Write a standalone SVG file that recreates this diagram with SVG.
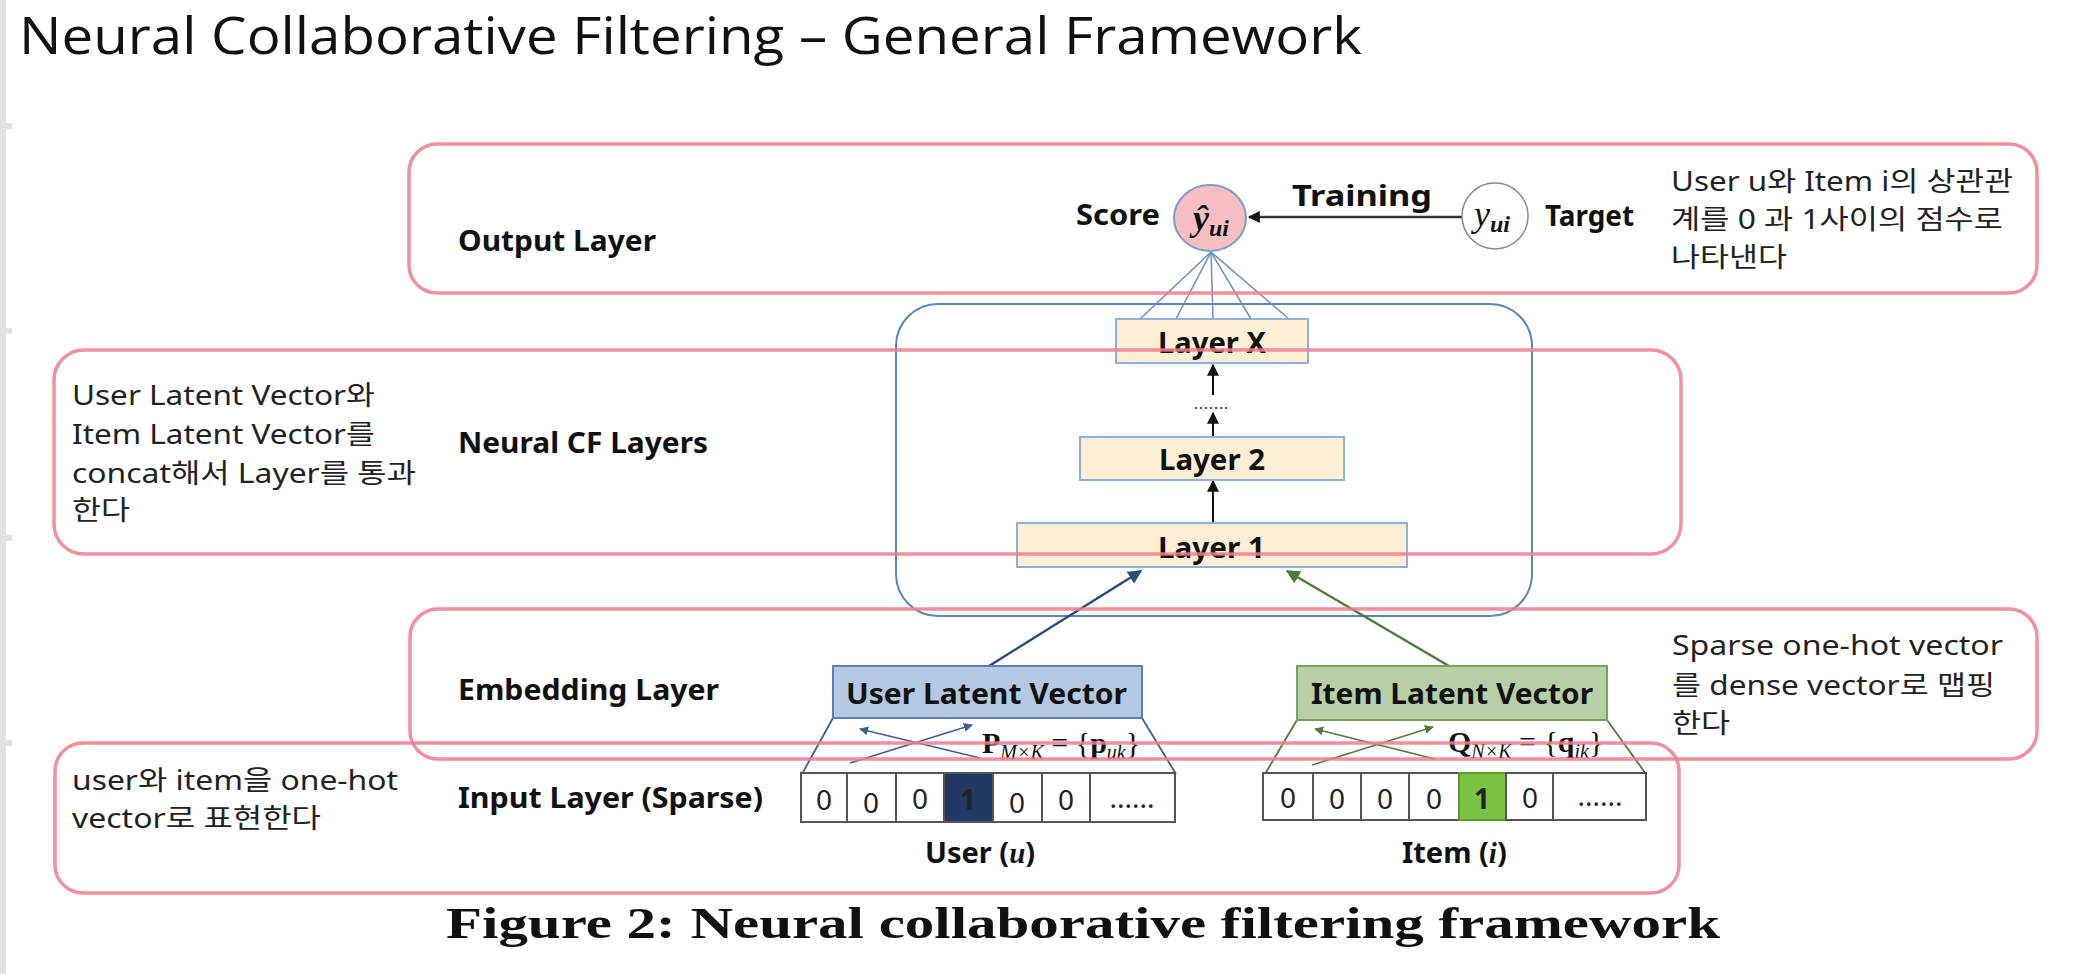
<svg xmlns="http://www.w3.org/2000/svg" width="2081" height="974" viewBox="0 0 2081 974">
<defs>
<style>
.lbl{font-family:"Noto Sans","Liberation Sans",sans-serif;font-weight:bold;font-size:29px;fill:#111}
.kr{font-family:"Noto Sans","Noto Sans CJK KR",sans-serif;font-size:27px;fill:#222}
.region{fill:none;stroke:#ef7d8e;stroke-width:3.5;stroke-opacity:0.85}
.layer{fill:#fdefd6;stroke:#8fb1d8;stroke-width:2}
.cell{fill:#fff;stroke:#555;stroke-width:2}
.digit{font-family:"Noto Sans","Liberation Sans",sans-serif;font-size:28px;fill:#222;text-anchor:middle}
.math{font-family:"Liberation Serif","DejaVu Serif",serif;fill:#111}
.fan{stroke:#6d8fc2;stroke-width:1.5;fill:none}
</style>
<marker id="ahBlack" viewBox="0 0 10 10" refX="9" refY="5" markerWidth="12" markerHeight="12" markerUnits="userSpaceOnUse" orient="auto"><path d="M0,0 L10,5 L0,10 z" fill="#111"/></marker>
<marker id="ahNavy" viewBox="0 0 10 10" refX="9" refY="5" markerWidth="14" markerHeight="14" markerUnits="userSpaceOnUse" orient="auto"><path d="M0,0 L10,5 L0,10 z" fill="#2c4a7c"/></marker>
<marker id="ahGreen" viewBox="0 0 10 10" refX="9" refY="5" markerWidth="14" markerHeight="14" markerUnits="userSpaceOnUse" orient="auto"><path d="M0,0 L10,5 L0,10 z" fill="#4f7a3a"/></marker>
<marker id="ahSmallBlue" viewBox="0 0 10 10" refX="9" refY="5" markerWidth="9" markerHeight="9" markerUnits="userSpaceOnUse" orient="auto"><path d="M0,0 L10,5 L0,10 z" fill="#3d5f94"/></marker>
<marker id="ahSmallGreen" viewBox="0 0 10 10" refX="9" refY="5" markerWidth="9" markerHeight="9" markerUnits="userSpaceOnUse" orient="auto"><path d="M0,0 L10,5 L0,10 z" fill="#4f7a3a"/></marker>
</defs>
<rect x="0" y="0" width="2081" height="974" fill="#fff"/>
<g id="slide-edge" fill="#e2e2e2">
<rect x="0" y="0" width="6" height="974"/>
<rect x="0" y="123" width="12" height="6"/>
<rect x="0" y="328" width="12" height="6"/>
<rect x="0" y="535" width="12" height="6"/>
<rect x="0" y="740" width="12" height="6"/>
</g>
<text id="title" x="19" y="54" font-family="Open Sans, Noto Sans, sans-serif" font-size="52" fill="#111" textLength="1343" lengthAdjust="spacingAndGlyphs">Neural Collaborative Filtering – General Framework</text>

<g id="ncf-block">
<rect x="896" y="304" width="636" height="312" rx="42" fill="none" stroke="#5b85b8" stroke-width="2"/>
</g>

<g id="connectors">
<line class="fan" x1="1211" y1="252" x2="1140" y2="319"/>
<line class="fan" x1="1211" y1="252" x2="1176" y2="319"/>
<line class="fan" x1="1211" y1="252" x2="1213" y2="319"/>
<line class="fan" x1="1211" y1="252" x2="1251" y2="319"/>
<line class="fan" x1="1211" y1="252" x2="1289" y2="319"/>
<line x1="1462" y1="217" x2="1249" y2="217" stroke="#333" stroke-width="2.5" marker-end="url(#ahBlack)"/>
<line x1="1213" y1="437" x2="1213" y2="413" stroke="#111" stroke-width="2" marker-end="url(#ahBlack)"/>
<line x1="1213" y1="395" x2="1213" y2="365" stroke="#111" stroke-width="2" marker-end="url(#ahBlack)"/>
<line x1="1213" y1="523" x2="1213" y2="481" stroke="#111" stroke-width="2" marker-end="url(#ahBlack)"/>
<line x1="989" y1="666" x2="1141" y2="571" stroke="#2c4a7c" stroke-width="2.5" marker-end="url(#ahNavy)"/>
<line x1="1449" y1="666" x2="1287" y2="571" stroke="#4f7a3a" stroke-width="2.5" marker-end="url(#ahGreen)"/>
<line x1="833" y1="718" x2="802" y2="774" stroke="#3d5f94" stroke-width="1.8"/>
<line x1="1142" y1="718" x2="1176" y2="774" stroke="#3d5f94" stroke-width="1.8"/>
<line x1="850" y1="763" x2="972" y2="725" stroke="#3d5f94" stroke-width="1.5" marker-end="url(#ahSmallBlue)"/>
<line x1="980" y1="758" x2="860" y2="729" stroke="#3d5f94" stroke-width="1.5" marker-end="url(#ahSmallBlue)"/>
<line x1="1297" y1="720" x2="1265" y2="774" stroke="#4f7a3a" stroke-width="1.8"/>
<line x1="1607" y1="720" x2="1646" y2="774" stroke="#4f7a3a" stroke-width="1.8"/>
<line x1="1312" y1="765" x2="1433" y2="727" stroke="#4f7a3a" stroke-width="1.5" marker-end="url(#ahSmallGreen)"/>
<line x1="1435" y1="759" x2="1315" y2="729" stroke="#4f7a3a" stroke-width="1.5" marker-end="url(#ahSmallGreen)"/>
</g>

<g id="score">
<ellipse cx="1210" cy="218" rx="36" ry="33" fill="#f7bec3" stroke="#7c9dc9" stroke-width="2"/>
<text class="math" x="1193" y="230" font-size="36" font-style="italic" font-weight="bold">ŷ<tspan font-size="24" dy="6">ui</tspan></text>
<text class="lbl" x="1076" y="225" textLength="84" lengthAdjust="spacingAndGlyphs">Score</text>
</g>
<g id="target">
<ellipse cx="1495" cy="216" rx="33" ry="33" fill="#fff" stroke="#888" stroke-width="1.5"/>
<text class="math" x="1474" y="226" font-size="36" font-style="italic">y<tspan font-size="24" dy="6" font-weight="bold">ui</tspan></text>
<text class="lbl" x="1545" y="226" textLength="89" lengthAdjust="spacingAndGlyphs">Target</text>
</g>
<text id="training" class="lbl" x="1292" y="206" font-size="33" textLength="140" lengthAdjust="spacingAndGlyphs">Training</text>

<g id="layer-x">
<rect class="layer" x="1116" y="319" width="192" height="44"/>
<text class="lbl" x="1158" y="353" textLength="108" lengthAdjust="spacingAndGlyphs">Layer X</text>
</g>
<text id="dots" x="1211" y="409" font-family="Liberation Sans, sans-serif" font-size="18" fill="#333" text-anchor="middle">.......</text>
<g id="layer-2">
<rect class="layer" x="1080" y="437" width="264" height="43"/>
<text class="lbl" x="1159" y="470" textLength="106" lengthAdjust="spacingAndGlyphs">Layer 2</text>
</g>
<g id="layer-1">
<rect class="layer" x="1017" y="523" width="390" height="44" stroke="#5a84b8"/>
<text class="lbl" x="1158" y="558" textLength="107" lengthAdjust="spacingAndGlyphs">Layer 1</text>
</g>

<g id="user-latent">
<rect x="833" y="666" width="309" height="52" fill="#b3c8e3" stroke="#5a7fb0" stroke-width="2"/>
<text class="lbl" x="846" y="704" font-size="31" textLength="281" lengthAdjust="spacingAndGlyphs">User Latent Vector</text>
</g>
<g id="item-latent">
<rect x="1297" y="666" width="310" height="54" fill="#b7cea7" stroke="#7aa060" stroke-width="2"/>
<text class="lbl" x="1311" y="704" font-size="31" textLength="282" lengthAdjust="spacingAndGlyphs">Item Latent Vector</text>
</g>

<text id="p-matrix" class="math" x="982" y="753" font-size="30"><tspan font-weight="bold">P</tspan><tspan font-size="20" font-style="italic" dy="6">M×K</tspan><tspan dy="-6"> = {</tspan><tspan font-weight="bold">p</tspan><tspan font-size="20" font-style="italic" dy="6">uk</tspan><tspan dy="-6">}</tspan></text>
<text id="q-matrix" class="math" x="1448" y="752" font-size="30"><tspan font-weight="bold">Q</tspan><tspan font-size="20" font-style="italic" dy="6">N×K</tspan><tspan dy="-6"> = {</tspan><tspan font-weight="bold">q</tspan><tspan font-size="20" font-style="italic" dy="6">ik</tspan><tspan dy="-6">}</tspan></text>

<g id="user-input">
<rect class="cell" x="801" y="773" width="46" height="49"/>
<rect class="cell" x="847" y="773" width="49" height="49"/>
<rect class="cell" x="896" y="773" width="48" height="49"/>
<rect x="944" y="773" width="49" height="49" fill="#1f3864" stroke="#555" stroke-width="2"/>
<rect class="cell" x="993" y="773" width="49" height="49"/>
<rect class="cell" x="1042" y="773" width="48" height="49"/>
<rect class="cell" x="1090" y="773" width="85" height="49"/>
<text class="digit" x="824" y="810">0</text>
<text class="digit" x="871" y="813">0</text>
<text class="digit" x="920" y="809">0</text>
<text class="digit" x="968" y="810" fill="#fff" font-weight="bold">1</text>
<text class="digit" x="1017" y="813">0</text>
<text class="digit" x="1066" y="810">0</text>
<text class="digit" x="1132" y="808" font-size="18">......</text>
<text class="lbl" x="925" y="863" font-size="31">User (<tspan class="math" font-style="italic">u</tspan>)</text>
</g>
<g id="item-input">
<rect class="cell" x="1263" y="773" width="50" height="47"/>
<rect class="cell" x="1313" y="773" width="48" height="47"/>
<rect class="cell" x="1361" y="773" width="48" height="47"/>
<rect class="cell" x="1409" y="773" width="50" height="47"/>
<rect x="1459" y="773" width="47" height="47" fill="#7cc242" stroke="#5a9a30" stroke-width="2"/>
<rect class="cell" x="1506" y="773" width="47" height="47"/>
<rect class="cell" x="1553" y="773" width="93" height="47"/>
<text class="digit" x="1288" y="808">0</text>
<text class="digit" x="1337" y="809">0</text>
<text class="digit" x="1385" y="809">0</text>
<text class="digit" x="1434" y="809">0</text>
<text class="digit" x="1482" y="809" font-weight="bold" fill="#1a1a1a">1</text>
<text class="digit" x="1530" y="808">0</text>
<text class="digit" x="1600" y="806" font-size="18">......</text>
<text class="lbl" x="1402" y="863" font-size="31">Item (<tspan class="math" font-style="italic">i</tspan>)</text>
</g>

<g id="output-layer">
<rect class="region" x="409" y="144" width="1628" height="149" rx="28"/>
<text class="lbl" x="458" y="251" textLength="198" lengthAdjust="spacingAndGlyphs">Output Layer</text>
<text class="kr" x="1671" y="191" textLength="342" lengthAdjust="spacingAndGlyphs">User u와 Item i의 상관관</text>
<text class="kr" x="1671" y="229" textLength="332" lengthAdjust="spacingAndGlyphs">계를 0 과 1사이의 점수로</text>
<text class="kr" x="1671" y="267" textLength="116" lengthAdjust="spacingAndGlyphs">나타낸다</text>
</g>
<g id="neural-cf-layers">
<rect class="region" x="54" y="350" width="1627" height="204" rx="30"/>
<text class="lbl" x="458" y="453" textLength="250" lengthAdjust="spacingAndGlyphs">Neural CF Layers</text>
<text class="kr" x="72" y="405" textLength="303" lengthAdjust="spacingAndGlyphs">User Latent Vector와</text>
<text class="kr" x="72" y="444" textLength="303" lengthAdjust="spacingAndGlyphs">Item Latent Vector를</text>
<text class="kr" x="72" y="483" textLength="344" lengthAdjust="spacingAndGlyphs">concat해서 Layer를 통과</text>
<text class="kr" x="72" y="520" textLength="58" lengthAdjust="spacingAndGlyphs">한다</text>
</g>
<g id="embedding-layer">
<rect class="region" x="410" y="609" width="1627" height="150" rx="28"/>
<text class="lbl" x="458" y="700" textLength="261" lengthAdjust="spacingAndGlyphs">Embedding Layer</text>
<text class="kr" x="1672" y="655" textLength="331" lengthAdjust="spacingAndGlyphs">Sparse one-hot vector</text>
<text class="kr" x="1672" y="695" textLength="323" lengthAdjust="spacingAndGlyphs">를 dense vector로 맵핑</text>
<text class="kr" x="1672" y="733" textLength="58" lengthAdjust="spacingAndGlyphs">한다</text>
</g>
<g id="input-layer">
<rect class="region" x="55" y="743" width="1624" height="150" rx="28"/>
<text class="lbl" x="458" y="808" textLength="305" lengthAdjust="spacingAndGlyphs">Input Layer (Sparse)</text>
<text class="kr" x="72" y="790" textLength="326" lengthAdjust="spacingAndGlyphs">user와 item을 one-hot</text>
<text class="kr" x="72" y="828" textLength="249" lengthAdjust="spacingAndGlyphs">vector로 표현한다</text>
</g>

<text id="caption" x="446" y="938" font-family="Liberation Serif, DejaVu Serif, serif" font-weight="bold" font-size="44" fill="#111" textLength="1274" lengthAdjust="spacingAndGlyphs">Figure 2: Neural collaborative filtering framework</text>
</svg>
